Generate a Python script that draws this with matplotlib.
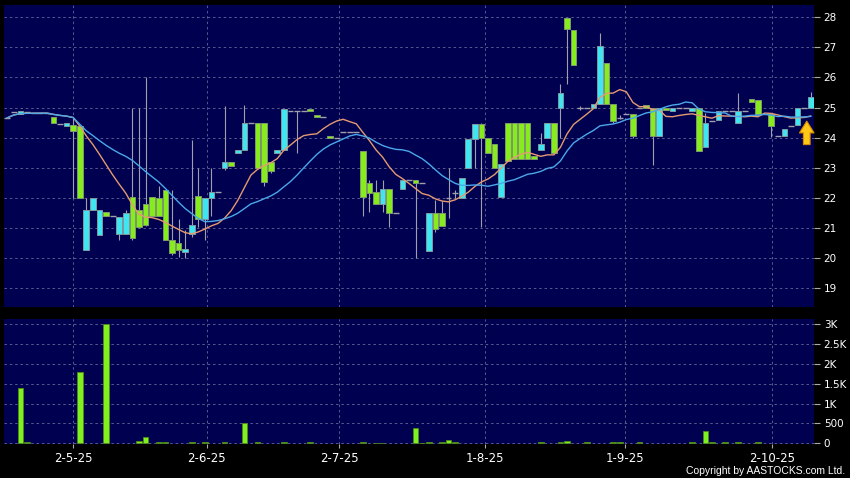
import numpy as np
import pandas as pd
import matplotlib
matplotlib.use('Agg')
import matplotlib.pyplot as plt

# daily OHLC + volume (one entry per trading day)
opens = [24.66, 24.85, 24.80, 24.85, 24.82, 24.82, 24.82, 24.69, 24.47, 24.40,
         24.43, 24.38, 20.27, 21.60, 20.77, 21.54, 21.40, 20.80, 20.80, 22.02,
         21.60, 21.80, 22.04, 22.00, 22.27, 20.60, 20.51, 20.19, 20.80, 22.07,
         21.29, 21.99, 22.18, 22.99, 23.18, 23.49, 23.58, 24.49, 24.49, 24.49,
         23.18, 23.49, 23.58, 24.90, 24.90, 24.90, 24.96, 24.76, 24.70, 24.07,
         23.99, 24.18, 24.18, 24.18, 23.57, 22.49, 22.18, 21.79, 22.29, 21.49,
         22.29, 22.58, 22.58, 22.50, 20.24, 21.49, 21.49, 22.01, 22.16, 21.99,
         22.99, 23.96, 24.47, 23.99, 23.80, 22.02, 24.49, 24.49, 24.49, 24.49,
         23.38, 23.60, 23.99, 24.49, 24.99, 27.99, 27.58, 24.99, 24.99, 24.99,
         25.12, 26.49, 25.12, 24.66, 24.77, 24.77, 24.99, 25.07, 24.99, 24.04,
         24.99, 24.90, 24.99, 24.99, 24.88, 24.99, 23.69, 24.54, 24.58, 24.88,
         24.88, 24.49, 24.88, 25.27, 25.24, 24.77, 24.77, 24.04, 24.07, 24.40,
         24.43, 24.99, 24.99]
highs = [24.66, 24.85, 24.90, 24.85, 24.82, 24.82, 24.82, 24.69, 24.47, 24.49,
         24.66, 24.38, 22.00, 21.99, 21.58, 21.54, 21.40, 21.36, 21.60, 25.00,
         25.00, 26.00, 22.04, 22.38, 22.27, 22.27, 21.29, 20.93, 23.93, 23.00,
         21.99, 23.00, 22.18, 25.04, 23.18, 23.60, 25.10, 24.49, 24.49, 24.49,
         23.18, 23.60, 24.96, 24.90, 24.90, 24.90, 24.96, 24.76, 24.70, 24.07,
         23.99, 24.18, 24.18, 24.18, 23.57, 22.60, 22.60, 22.60, 22.29, 21.49,
         22.58, 22.58, 22.58, 22.50, 21.49, 21.93, 21.88, 22.99, 22.27, 22.66,
         23.96, 24.47, 24.49, 23.99, 23.80, 23.13, 24.49, 24.49, 24.49, 24.49,
         23.38, 24.16, 24.49, 24.49, 25.80, 27.99, 27.58, 25.05, 24.99, 25.12,
         27.49, 26.49, 25.12, 24.75, 24.77, 24.77, 24.99, 25.07, 24.99, 24.99,
         24.99, 24.99, 24.99, 24.99, 24.99, 24.99, 24.82, 24.54, 24.88, 24.88,
         24.88, 25.49, 24.88, 25.27, 25.24, 24.77, 24.77, 24.04, 24.29, 24.40,
         24.99, 24.99, 25.51]
lows = [24.66, 24.85, 24.80, 24.85, 24.82, 24.82, 24.82, 24.49, 24.47, 24.40,
        21.99, 21.99, 20.27, 21.60, 20.77, 21.40, 21.40, 20.60, 20.80, 20.60,
        21.00, 21.05, 21.38, 21.40, 20.60, 20.10, 20.04, 20.00, 20.71, 21.04,
        20.60, 21.38, 22.18, 22.93, 23.07, 23.49, 23.58, 24.49, 22.99, 22.40,
        22.82, 23.49, 23.58, 24.90, 23.49, 24.90, 24.88, 24.70, 24.70, 23.99,
        23.99, 24.18, 24.18, 24.18, 21.38, 21.54, 21.79, 21.54, 21.04, 21.49,
        22.29, 22.58, 19.99, 22.50, 20.24, 20.88, 21.07, 21.32, 21.99, 21.99,
        22.99, 22.99, 21.04, 23.49, 22.99, 22.02, 23.23, 23.29, 23.29, 23.29,
        23.29, 23.60, 23.99, 23.49, 23.99, 25.80, 26.40, 24.92, 24.99, 24.99,
        25.12, 25.12, 24.50, 24.62, 24.77, 24.00, 24.99, 24.99, 23.10, 24.04,
        24.91, 24.90, 24.99, 24.99, 24.88, 23.54, 23.69, 24.54, 24.58, 24.88,
        24.88, 24.49, 24.88, 25.20, 24.77, 24.77, 24.02, 24.04, 24.07, 24.40,
        24.43, 24.99, 24.99]
closes = [24.66, 24.85, 24.88, 24.85, 24.82, 24.82, 24.82, 24.49, 24.47, 24.49,
          24.21, 21.99, 21.60, 21.99, 21.58, 21.40, 21.40, 21.36, 21.49, 20.66,
          21.04, 21.10, 21.38, 21.40, 20.60, 20.18, 20.27, 20.30, 21.10, 21.29,
          21.99, 22.18, 22.18, 23.18, 23.07, 23.60, 24.49, 24.49, 22.99, 22.54,
          22.90, 23.60, 24.96, 24.90, 24.90, 24.90, 24.88, 24.70, 24.70, 23.99,
          23.99, 24.18, 24.18, 24.18, 22.04, 22.16, 21.79, 22.29, 21.49, 21.49,
          22.58, 22.58, 22.49, 22.50, 21.49, 20.96, 21.07, 22.01, 22.16, 22.66,
          23.96, 24.47, 23.99, 23.49, 22.99, 23.13, 23.23, 23.29, 23.29, 23.29,
          23.29, 23.79, 24.49, 23.49, 25.49, 27.60, 26.40, 24.99, 24.99, 25.12,
          27.04, 25.12, 24.57, 24.66, 24.77, 24.04, 24.99, 24.99, 24.04, 24.99,
          24.91, 24.99, 24.99, 24.99, 24.99, 23.54, 24.49, 24.54, 24.88, 24.88,
          24.88, 24.88, 24.88, 25.20, 24.77, 24.77, 24.38, 24.04, 24.29, 24.40,
          24.99, 24.99, 25.36]
volumes = [0, 0, 1400, 40, 0, 0, 0, 0, 0, 0,
           0, 1800, 0, 0, 0, 3000, 0, 0, 0, 0,
           50, 170, 0, 30, 30, 0, 0, 0, 30, 0,
           30, 0, 0, 25, 0, 0, 520, 0, 35, 0,
           0, 0, 25, 0, 0, 0, 45, 0, 0, 0,
           0, 0, 0, 0, 30, 0, 10, 10, 0, 0,
           0, 0, 380, 15, 25, 0, 45, 80, 45, 0,
           0, 0, 0, 0, 0, 0, 0, 0, 0, 0,
           0, 20, 0, 0, 40, 65, 0, 0, 20, 0,
           0, 0, 45, 30, 0, 0, 30, 0, 0, 0,
           0, 0, 0, 0, 20, 0, 320, 20, 0, 30,
           0, 25, 0, 0, 20, 0, 0, 0, 0, 0,
           0, 0, 0]

date_labels = ['2-5-25', '2-6-25', '2-7-25', '1-8-25', '1-9-25', '2-10-25']
price_ticks = list(range(19, 29))
vol_ticks = [0, 500, 1000, 1500, 2000, 2500, 3000]
vol_labels = ['0', '500', '1K', '1.5K', '2K', '2.5K', '3K']

# where the date labels sit on the day axis
date_pos = [10.02, 30.29, 50.43, 72.56, 93.82, 116.1]

o = np.array(opens)
h = np.array(highs)
l = np.array(lows)
c = np.array(closes)
v = np.array(volumes)
x = np.arange(len(c))

ma10 = pd.Series(c).rolling(10, min_periods=1).mean()
ma20 = pd.Series(c).rolling(20, min_periods=1).mean()

bg = '#000050'
grid_col = '#5a5a90'
cyan = '#3fe6f2'
green = '#86ec1e'
wick = '#a0a0ac'

fig = plt.figure(figsize=(8.5, 4.78), dpi=100, facecolor='black')
ax = fig.add_axes([4 / 850, 1 - 306.7 / 478, 810 / 850, 301.7 / 478])
axv = fig.add_axes([4 / 850, 1 - 444 / 478, 810 / 850, 125 / 478], sharex=ax)

for a in (ax, axv):
    a.set_facecolor(bg)
    for s in a.spines.values():
        s.set_visible(False)
    a.grid(True, color=grid_col, ls=(0, (2.5, 3)), lw=0.7)
    a.set_axisbelow(True)
    a.yaxis.tick_right()
    a.tick_params(axis='y', colors='#aaaaaa', labelcolor='white',
                  length=4, width=0.8, pad=3, labelsize=7.5)

# candles
up = c > o
down = c < o
flat = c == o
ax.vlines(x, l, h, color=wick, lw=0.8, zorder=2)
ax.bar(x[up], (c - o)[up], bottom=o[up], width=0.86, color=cyan,
       edgecolor='#7d9aa0', lw=0.7, zorder=3)
ax.bar(x[down], (o - c)[down], bottom=c[down], width=0.86, color=green,
       edgecolor='#7f9a6a', lw=0.7, zorder=3)
ax.hlines(c[flat], x[flat] - 0.45, x[flat] + 0.45, color=wick, lw=1.0, zorder=3)

ax.plot(x, ma10, color='#e59a70', lw=1.0, zorder=4)
ax.plot(x, ma20, color='#4aa8ea', lw=1.0, zorder=4)

# up arrow next to the last candle
ax.annotate('', xy=(len(c) - 1.6, 24.55), xytext=(len(c) - 1.6, 23.77),
            arrowprops=dict(arrowstyle='simple,head_length=0.85,head_width=1.05,tail_width=0.48',
                            mutation_scale=10, fc='#ffc816', ec='#d88a00', lw=0.8,
                            shrinkA=0, shrinkB=0), zorder=5)

ax.set_xlim(-0.5, len(c) - 0.5)
ax.set_ylim(18.38, 28.41)
ax.set_yticks(price_ticks)
ax.set_xticks(date_pos)
ax.tick_params(axis='x', length=0, labelbottom=False)

# volume
m = v > 0
axv.bar(x[m], v[m], width=0.86, color='#80f020', edgecolor='#4d8a18', lw=0.6, zorder=3)
axv.set_ylim(-18, 3134)
axv.set_yticks(vol_ticks)
axv.set_yticklabels(vol_labels)
axv.set_xticks(date_pos)
axv.set_xticklabels(date_labels)
axv.tick_params(axis='x', colors='#aaaaaa', labelcolor='white', length=3,
                width=0.8, pad=3, labelsize=8.5)

fig.text(845 / 850, 2 / 478, 'Copyright by AASTOCKS.com Ltd.', ha='right', va='bottom',
         color='white', fontsize=7.5, family='Liberation Sans')

fig.savefig('out.png', dpi=100, facecolor='black')
